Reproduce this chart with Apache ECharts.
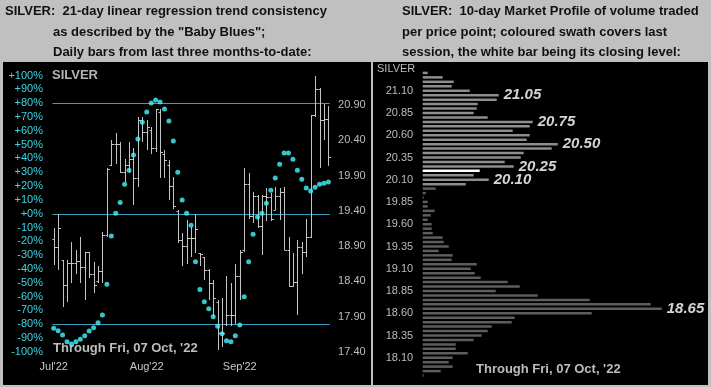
<!DOCTYPE html>
<html><head><meta charset="utf-8">
<script src="https://cdn.jsdelivr.net/npm/echarts@6/dist/echarts.min.js"></script>
<style>
html,body{margin:0;padding:0;background:#c0c0c0;}
#wrap{position:relative;width:711px;height:387px;background:#c0c0c0;overflow:hidden;}
.panel{position:absolute;background:#000;}
#c{position:absolute;left:0;top:0;width:711px;height:387px;}
</style>
</head><body>
<div id="wrap">
  <div class="panel" style="left:3px;top:62px;width:368px;height:323px;"></div>
  <div class="panel" style="left:373px;top:62px;width:335px;height:323px;"></div>
  <div id="c"></div>
</div>
<script>
// ---------- Left chart data ----------
const days = ['J01','J02','J03','J04','J05','J06','J07','J08','J09','J10','J11','J12','J13','J14','J15','J16','J17','J18','J19','J20','J21',
  'A01','A02','A03','A04','A05','A06','A07','A08','A09','A10','A11','A12','A13','A14','A15','A16','A17','A18','A19','A20','A21',
  'S01','S02','S03','S04','S05','S06','S07','S08','S09','S10','S11','S12','S13','S14','S15','S16','O01','O02','O03','O04','O05'];
const monthTicks = {0:"Jul'22", 21:"Aug'22", 42:"Sep'22"};
const priceTicks = [17.4, 17.9, 18.4, 18.9, 19.4, 19.9, 20.4, 20.9];
const opens  = [19.00,18.89,18.70,18.35,18.66,18.66,18.69,18.60,18.81,18.51,18.40,18.54,19.06,20.05,20.35,20.35,19.95,20.05,20.14,19.86,20.69,20.52,20.55,20.29,20.80,20.20,20.05,19.75,19.40,18.99,18.90,19.01,19.01,18.80,18.75,18.56,18.37,18.10,17.66,17.80,17.92,17.92,18.47,18.85,19.78,19.32,19.61,19.18,19.61,19.60,19.41,19.61,19.67,18.85,18.33,18.39,18.89,18.81,19.03,20.76,21.13,20.69,20.70];
const highs  = [19.15,19.35,18.70,18.70,18.96,18.84,19.03,18.82,18.82,18.68,18.61,19.10,20.00,20.40,20.50,20.38,20.14,20.38,20.29,20.73,20.73,20.69,20.59,20.85,20.85,20.26,20.12,19.88,19.41,19.08,19.27,19.17,19.35,18.80,18.75,18.58,18.42,18.13,18.17,18.47,18.37,18.65,18.84,20.00,19.93,19.67,19.62,19.62,19.72,19.65,19.74,19.72,19.74,19.03,18.80,18.99,18.96,19.29,20.76,21.31,21.14,20.92,20.88];
const lows   = [18.63,18.56,18.04,18.11,18.37,18.51,18.37,18.13,18.44,18.23,18.37,18.37,19.03,20.03,20.07,19.93,19.81,19.93,19.48,19.74,20.38,20.26,20.21,20.24,19.86,19.86,19.55,19.43,18.94,18.61,18.65,18.75,18.80,18.61,18.42,18.13,17.90,17.42,17.47,17.76,17.76,17.80,18.13,18.82,19.29,19.22,19.15,18.77,19.25,19.25,19.41,19.27,18.84,18.32,18.32,17.92,18.50,18.75,19.01,20.73,20.00,20.40,20.03];
const closes = [18.89,19.15,18.35,18.66,18.66,18.69,18.60,18.81,18.51,18.35,18.54,19.06,19.99,20.35,20.35,19.95,20.05,20.14,19.86,20.69,20.52,20.59,20.29,20.85,20.24,20.12,19.75,19.47,18.99,18.90,19.01,19.01,19.14,18.79,18.56,18.37,18.17,17.66,17.66,17.92,17.92,18.47,18.81,19.78,19.32,19.61,19.18,19.61,19.60,19.29,19.61,19.67,18.85,18.33,18.39,18.89,18.81,19.03,20.76,21.13,20.69,20.70,20.16];
const babyBlues = [-83.0,-84.7,-87.8,-92.7,-94.4,-92.7,-91.0,-88.3,-84.9,-82.5,-78.9,-73.4,-51.1,-16.1,0.3,8.2,21.3,31.4,42.5,54.1,66.2,73.6,80.2,82.3,80.9,75.8,67.1,52.6,30.0,9.9,0.3,-8.4,-34.8,-54.8,-63.7,-68.8,-74.6,-81.5,-86.9,-92.0,-92.7,-88.3,-80.6,-60.1,-34.8,-14.9,-2.4,0.3,7.5,16.9,25.9,35.8,44.0,44.0,39.4,31.4,24.9,18.6,16.4,19.1,21.3,22.0,23.0];
const bbLevels = [80, 0, -80];

// ---------- Right chart data ----------
const profilePrices = ['21.30','21.25','21.20','21.15','21.10','21.05','21.00','20.95','20.90','20.85','20.80','20.75','20.70','20.65','20.60','20.55','20.50','20.45','20.40','20.35','20.30','20.25','20.20','20.15','20.10','20.05','20.00',
  '19.95','19.90','19.85','19.80','19.75','19.70','19.65','19.60','19.55','19.50','19.45','19.40','19.35','19.30','19.25','19.20','19.15','19.10','19.05','19.00','18.95','18.90','18.85','18.80','18.75','18.70','18.65','18.60','18.55','18.50','18.45','18.40','18.35','18.30','18.25','18.20','18.15','18.10','18.05','18.00','17.95','17.90'];
const profileVolume = [5,20,31,29,47,76,74,55,54,51,65,110,107,90,107,104,135,129,101,98,82,91,57,51,66,43,13,
  3,1,5,5,12,8,5,9,9,10,20,21,26,16,30,29,54,48,52,58,85,97,73,115,167,228,239,169,92,89,69,65,59,51,33,33,45,30,26,30,18,1];
const profileTicks = ['21.10','20.85','20.60','20.35','20.10','19.85','19.60','19.35','19.10','18.85','18.60','18.35','18.10'];
const profilePeaks = ['21.05','20.75','20.50','20.25','20.10','18.65'];
const closingLevel = '20.20';
const swathHigh = 21.30, swathLow = 20.05;

// ---------- build ----------
const FONT = 'Arial, "Liberation Sans", sans-serif';
const ohlc = days.map((d, i) => [i, opens[i], highs[i], lows[i], closes[i]]);

function renderOHLC(params, api) {
  const idx = api.value(0);
  const o = api.coord([idx, api.value(1)]);
  const h = api.coord([idx, api.value(2)]);
  const l = api.coord([idx, api.value(3)]);
  const c = api.coord([idx, api.value(4)]);
  const cx = Math.round(o[0]) + 0.5;
  const tw = 2;
  const st = {stroke: '#c4c4c4', lineWidth: 1};
  const oy = Math.round(o[1]) + 0.5, cy = Math.round(c[1]) + 0.5;
  return {type: 'group', children: [
    {type: 'line', shape: {x1: cx, y1: Math.round(h[1]), x2: cx, y2: Math.round(l[1])}, style: st},
    {type: 'line', shape: {x1: cx - tw, y1: oy, x2: cx, y2: oy}, style: st},
    {type: 'line', shape: {x1: cx, y1: cy, x2: cx + tw + 0.5, y2: cy}, style: st}
  ]};
}

function renderLevel(params, api) {
  const cs = params.coordSys;
  const y = Math.round(api.coord([0, api.value(1)])[1]) + 0.5;
  return {type: 'line', shape: {x1: cs.x + 1, y1: y, x2: cs.x + cs.width - 1, y2: y},
    style: {stroke: '#3a9fc6', lineWidth: 1}};
}

const profileData = profilePrices.map((p, i) => {
  const v = parseFloat(p);
  let color = (v <= swathHigh + 1e-9 && v >= swathLow - 1e-9) ? '#8e8e8e' : '#5e5e5e';
  if (p === closingLevel) color = '#ffffff';
  const item = {value: profileVolume[i], itemStyle: {color}};
  if (profilePeaks.includes(p)) {
    item.label = {show: true, position: 'right', distance: 5, formatter: p,
      color: '#d4d4d4', fontSize: 15, fontWeight: 'bold', fontStyle: 'italic', fontFamily: FONT};
  }
  return item;
});

const chart = echarts.init(document.getElementById('c'), null, {renderer: 'canvas'});
const hdr = {fill: '#111', font: 'bold 13px ' + FONT, textVerticalAlign: 'middle'};
chart.setOption({
  backgroundColor: 'transparent',
  animation: false,
  graphic: [
    {type: 'text', x: 5, y: 11.5, style: Object.assign({text: 'SILVER:  21-day linear regression trend consistency'}, hdr)},
    {type: 'text', x: 53, y: 32, style: Object.assign({text: 'as described by the "Baby Blues";'}, hdr)},
    {type: 'text', x: 53, y: 52.5, style: Object.assign({text: 'Daily bars from last three months-to-date:'}, hdr)},
    {type: 'text', x: 402, y: 11.5, style: Object.assign({text: 'SILVER:  10-day Market Profile of volume traded'}, hdr)},
    {type: 'text', x: 402, y: 32, style: Object.assign({text: 'per price point; coloured swath covers last'}, hdr)},
    {type: 'text', x: 402, y: 52.5, style: Object.assign({text: 'session, the white bar being its closing level:'}, hdr)},
    {type: 'text', x: 52, y: 75.5, z: 1, style: {text: 'SILVER', fill: '#b4b4b4', font: 'bold 13px ' + FONT, textVerticalAlign: 'middle'}},
    {type: 'text', x: 53, y: 348, z: 1, style: {text: "Through Fri, 07 Oct, '22", fill: '#bdbdbd', font: 'bold 13px ' + FONT, textVerticalAlign: 'middle'}},
    {type: 'text', x: 377, y: 68.5, style: {text: 'SILVER', fill: '#bdbdbd', font: '11px ' + FONT, textVerticalAlign: 'middle'}},
    {type: 'text', x: 476, y: 369, style: {text: "Through Fri, 07 Oct, '22", fill: '#bdbdbd', font: 'bold 13px ' + FONT, textVerticalAlign: 'middle'}}
  ],
  grid: [
    {left: 51.5, right: 380.4, top: 75.6, height: 276.2},
    {left: 422.7, width: 260, top: 70.7, height: 307.05}
  ],
  xAxis: [
    {type: 'category', gridIndex: 0, data: days, boundaryGap: true,
      axisLine: {show: false}, axisTick: {show: false}, splitLine: {show: false},
      axisLabel: {interval: 0, margin: 10, color: '#c8c8c8', fontSize: 11, fontFamily: FONT,
        formatter: (v, i) => monthTicks[i] || ''}},
    {type: 'value', gridIndex: 1, min: 0, max: 260, show: false}
  ],
  yAxis: [
    {type: 'value', gridIndex: 0, min: -100, max: 100, interval: 10, position: 'left',
      axisLine: {show: false}, axisTick: {show: false}, splitLine: {show: false},
      axisLabel: {margin: 8.5, color: '#3fd3e3', fontSize: 11, fontFamily: FONT,
        formatter: v => (v >= 0 ? '+' + v : '' + v) + '%'}},
    {type: 'value', gridIndex: 0, min: 17.4, max: 21.317, position: 'right',
      axisLine: {show: false}, axisTick: {show: false}, splitLine: {show: false},
      axisLabel: {customValues: priceTicks, margin: 7.5, color: '#bdbdbd', fontSize: 11, fontFamily: FONT,
        formatter: v => v.toFixed(2)}},
    {type: 'category', gridIndex: 1, data: profilePrices, inverse: true, boundaryGap: true,
      axisLine: {show: false}, axisTick: {show: false}, splitLine: {show: false},
      axisLabel: {interval: 0, margin: 9.5, color: '#bdbdbd', fontSize: 11, fontFamily: FONT,
        formatter: v => profileTicks.includes(v) ? v : ''}}
  ],
  series: [
    {type: 'custom', xAxisIndex: 0, yAxisIndex: 0, data: bbLevels.map(v => [0, v]), renderItem: renderLevel,
      encode: {x: 0, y: 1}, silent: true, z: 1},
    {type: 'custom', xAxisIndex: 0, yAxisIndex: 1, data: ohlc, renderItem: renderOHLC,
      encode: {x: 0, y: [1, 2, 3, 4]}, silent: true, z: 2},
    {type: 'scatter', xAxisIndex: 0, yAxisIndex: 0, data: babyBlues, symbol: 'circle', symbolSize: 5,
      itemStyle: {color: '#44f6ff'}, silent: true, z: 4},
    {type: 'bar', xAxisIndex: 1, yAxisIndex: 2, data: profileData, barWidth: 2.5, silent: true}
  ]
});
</script>
</body></html>
